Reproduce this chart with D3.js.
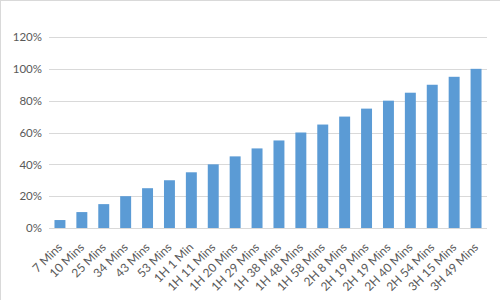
<!DOCTYPE html>
<html>
<head>
<meta charset="utf-8">
<script src="https://cdn.jsdelivr.net/npm/d3@7"></script>
<style>
  body { margin: 0; background: #fff; }
  text { font-family: Lato, "Liberation Sans", sans-serif; fill: #595959; }
</style>
</head>
<body>
<div id="chart"></div>
<script>
'use strict';

var categories = ['7 Mins', '10 Mins', '25 Mins', '34 Mins', '43 Mins', '53 Mins', '1H 1 Min',
    '1H 11 Mins', '1H 20 Mins', '1H 29 Mins', '1H 38 Mins', '1H 48 Mins', '1H 58 Mins', '2H 8 Mins',
    '2H 19 Mins', '2H 19 Mins ', '2H 40 Mins', '2H 54 Mins', '3H 15 Mins', '3H 49 Mins'];
var values = [0.05, 0.10, 0.15, 0.20, 0.25, 0.30, 0.35, 0.40, 0.45, 0.50,
    0.55, 0.60, 0.65, 0.70, 0.75, 0.80, 0.85, 0.90, 0.95, 1.00];
var yTicks = [0, 0.2, 0.4, 0.6, 0.8, 1.0, 1.2];

var width = 500,
    height = 300;
var margin = { left: 49, top: 37, right: 13, bottom: 72 };

var svg = d3.select('#chart').append('svg')
    .attr('width', width)
    .attr('height', height);

// chart frame
svg.append('rect')
    .attr('x', 0.5).attr('y', 0.5)
    .attr('width', width + 5).attr('height', height + 5)
    .attr('fill', 'none')
    .attr('stroke', '#d9d9d9');

var x = d3.scaleBand()
    .domain(categories)
    .range([margin.left, width - margin.right])
    .paddingInner(0.5)
    .paddingOuter(0.25);

var y = d3.scaleLinear()
    .domain([0, 1.2])
    .range([height - margin.bottom, margin.top]);

// gridlines
svg.append('g')
    .selectAll('line')
    .data(yTicks)
    .enter()
    .append('line')
    .attr('x1', margin.left)
    .attr('x2', width - margin.right)
    .attr('y1', function (d) { return Math.round(y(d)) + 0.5; })
    .attr('y2', function (d) { return Math.round(y(d)) + 0.5; })
    .attr('stroke', '#d9d9d9')
    .attr('stroke-width', 1);

// y labels
var yAxis = d3.axisLeft(y)
    .tickValues(yTicks)
    .tickSize(0)
    .tickPadding(7)
    .tickFormat(d3.format('.0%'));

svg.append('g')
    .attr('transform', 'translate(' + margin.left + ',0)')
    .call(yAxis)
    .call(function (g) { g.select('.domain').remove(); })
    .selectAll('text')
    .style('font-size', '11.5px');

// bars
svg.append('g')
    .selectAll('rect')
    .data(values)
    .enter()
    .append('rect')
    .attr('x', function (d, i) { return x(categories[i]); })
    .attr('width', x.bandwidth())
    .attr('y', function (d) { return y(d); })
    .attr('height', function (d) { return y(0) - y(d); })
    .attr('fill', '#5b9bd5');

// x labels
var xAxis = d3.axisBottom(x)
    .tickSize(0)
    .tickFormat(function (d) { return d.trim(); });

var xg = svg.append('g')
    .attr('transform', 'translate(0,' + (height - margin.bottom) + ')')
    .call(xAxis);
xg.select('.domain').remove();
xg.selectAll('text')
    .style('font-size', '12px')
    .attr('text-anchor', 'end')
    .attr('dy', null)
    .attr('y', 0)
    .attr('transform', 'translate(3,20) rotate(-45)');
</script>
</body>
</html>
